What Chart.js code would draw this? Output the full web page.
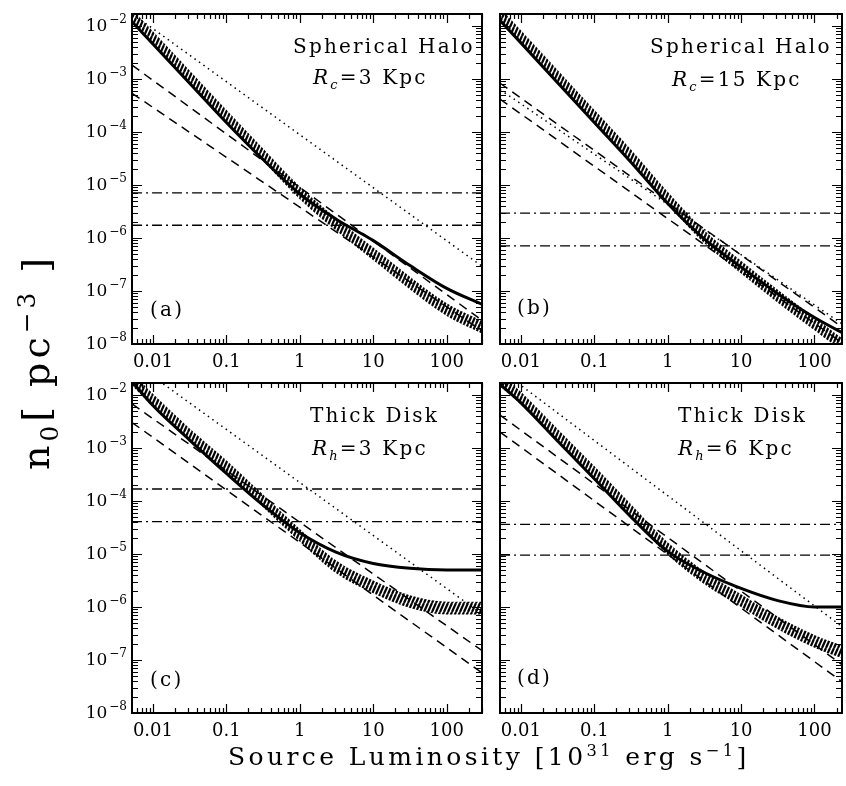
<!DOCTYPE html>
<html>
<head>
<meta charset="utf-8">
<script src="https://cdn.jsdelivr.net/npm/chart.js@4.4.1/dist/chart.umd.min.js"></script>
<style>
  body { margin: 0; background: #fff; }
  #fig { position: relative; width: 846px; height: 786px; overflow: hidden; font-family: 'DejaVu Serif', serif; color: #000; }
  canvas { position: absolute; }
  .t { position: absolute; white-space: nowrap; line-height: 1; }
  .lab { font-size: 20px; letter-spacing: 2.2px; }
  sub, sup { font-size: 65%; line-height: 0; }
</style>
</head>
<body>
<div id="fig">
  <canvas id="pa" width="490" height="380" style="left:0;top:0"></canvas>
  <canvas id="pb" width="356" height="380" style="left:490px;top:0"></canvas>
  <canvas id="pc" width="490" height="380" style="left:0;top:369px"></canvas>
  <canvas id="pd" width="356" height="380" style="left:490px;top:369px"></canvas>

  <div class="t lab" style="left:293px;top:36px">Spherical Halo</div>
  <div class="t lab" style="left:313px;top:67px"><i>R<sub>c</sub></i>=3 Kpc</div>
  <div class="t lab" style="left:650px;top:36px">Spherical Halo</div>
  <div class="t lab" style="left:672px;top:69px"><i>R<sub>c</sub></i>=15 Kpc</div>
  <div class="t lab" style="left:310px;top:405px">Thick Disk</div>
  <div class="t lab" style="left:312px;top:438px"><i>R<sub>h</sub></i>=3 Kpc</div>
  <div class="t lab" style="left:678px;top:405px">Thick Disk</div>
  <div class="t lab" style="left:678px;top:438px"><i>R<sub>h</sub></i>=6 Kpc</div>

  <div class="t lab" style="left:150px;top:299px">(a)</div>
  <div class="t lab" style="left:517px;top:297px">(b)</div>
  <div class="t lab" style="left:150px;top:669px">(c)</div>
  <div class="t lab" style="left:517px;top:667px">(d)</div>

  <div class="t" style="left:228px;top:744px;font-size:25px;letter-spacing:3.4px">Source Luminosity [10<sup>31</sup> erg s<sup>−1</sup>]</div>
  <div class="t" style="left:36px;top:362px;font-size:38px;letter-spacing:4px;transform:translate(-50%,-50%) rotate(-90deg)">n<sub>0</sub>[ pc<sup>−3</sup> ]</div>
</div>
<script>
// luminosity grid for the curves [10^31 erg/s]
const lum = [0.0052, 0.01, 0.0316, 0.1, 0.316, 1, 3.16, 10, 31.6, 100, 300];
// end points of the straight power-law lines
const endsL = [0.0052, 300];
const endsR = [0.0052, 237];

// (a) spherical halo, Rc = 3 kpc
const bandHiA = [2.09e-2, 7.94e-3, 1.45e-3, 2.63e-4, 4.9e-5, 9.33e-6, 2.34e-6, 6.61e-7, 1.86e-7, 5.89e-8, 2.75e-8];
const bandLoA = [1.2e-2, 4.57e-3, 8.32e-4, 1.51e-4, 2.82e-5, 5.37e-6, 1.35e-6, 3.8e-7, 1.07e-7, 3.39e-8, 1.58e-8];
const solidA = [1.2e-2, 4.57e-3, 8.32e-4, 1.51e-4, 3.02e-5, 6.76e-6, 2.24e-6, 8.91e-7, 3.02e-7, 1.12e-7, 5.62e-8];
const dashHiA = [1.82e-3, 2.82e-8];
const dashLoA = [5.37e-4, 1.78e-8];
const dotA = [1.71e-2, 2.95e-7];
const dashDotA = [7.1e-6, 1.74e-6];

// (b) spherical halo, Rc = 15 kpc
const bandHiB = [2.19e-2, 8.32e-3, 1.48e-3, 2.63e-4, 4.68e-5, 7.41e-6, 1.38e-6, 3.72e-7, 1.05e-7, 3.16e-8, 1.0e-8];
const bandLoB = [1.26e-2, 4.79e-3, 8.51e-4, 1.51e-4, 2.69e-5, 4.27e-6, 7.94e-7, 2.14e-7, 6.03e-8, 1.82e-8, 5.75e-9];
const solidB = [1.26e-2, 4.79e-3, 8.51e-4, 1.51e-4, 2.69e-5, 4.47e-6, 9.55e-7, 2.82e-7, 8.91e-8, 3.16e-8, 1.38e-8];
const dashHiB = [8.3e-4, 2.09e-8];
const dashLoB = [4.17e-4, 1.05e-8];
const dotB = [6.31e-4, 2.4e-8];
const dashDotB = [2.95e-6, 7.08e-7];

// (c) thick disk, Rh = 3 kpc
const bandHiC = [2.63e-2, 1.05e-2, 2.34e-3, 5.89e-4, 1.32e-4, 2.95e-5, 7.41e-6, 3.16e-6, 1.66e-6, 1.26e-6, 1.26e-6];
const bandLoC = [1.51e-2, 6.03e-3, 1.35e-3, 3.39e-4, 7.59e-5, 1.7e-5, 4.27e-6, 1.82e-6, 9.55e-7, 7.24e-7, 7.24e-7];
const solidC = [1.78e-2, 6.31e-3, 1.41e-3, 3.31e-4, 8.32e-5, 2.51e-5, 1.07e-5, 6.61e-6, 5.37e-6, 5.01e-6, 5.01e-6];
const dashHiC = [6.76e-3, 1.51e-7];
const dashLoC = [3.02e-3, 5.75e-8];
const dotC = [4.3e-2, 7.41e-7];
const dashDotC = [1.68e-4, 4.07e-5];

// (d) thick disk, Rh = 6 kpc
const bandHiD = [2.51e-2, 1.15e-2, 2.29e-3, 4.57e-4, 8.71e-5, 1.66e-5, 4.68e-6, 1.74e-6, 6.61e-7, 2.95e-7, 1.66e-7];
const bandLoD = [1.45e-2, 6.61e-3, 1.32e-3, 2.63e-4, 5.01e-5, 9.55e-6, 2.69e-6, 1.0e-6, 3.8e-7, 1.7e-7, 9.55e-8];
const solidD = [1.58e-2, 7.08e-3, 1.35e-3, 2.63e-4, 5.01e-5, 1.12e-5, 4.47e-6, 2.24e-6, 1.32e-6, 1.0e-6, 1.0e-6];
const dashHiD = [4.17e-3, 8.13e-8];
const dashLoD = [2.0e-3, 3.89e-8];
const dotD = [2.99e-2, 4.27e-7];
const dashDotD = [3.63e-5, 9.55e-6];

// axis ticks
const xTicks = [0.01, 0.1, 1, 10, 100];
const yTicks = [1e-8, 1e-7, 1e-6, 1e-5, 1e-4, 1e-3, 1e-2];

Chart.defaults.font.family = "'DejaVu Serif', serif";
Chart.defaults.color = '#000';

// hatch fill for the shaded band
function hatch() {
  const c = document.createElement('canvas');
  c.width = 4; c.height = 9;
  const g = c.getContext('2d');
  g.strokeStyle = '#000';
  g.lineWidth = 2.2;
  g.beginPath();
  for (let k = -1; k <= 1; k++) { g.moveTo(k * 4, 9); g.lineTo(k * 4 + 4, 0); }
  g.stroke();
  return g.createPattern(c, 'repeat');
}

// inward tick marks on all four sides, the frame, and 10^n labels
const frame = {
  id: 'frame',
  afterDatasetsDraw(chart) {
    const { ctx, chartArea: a, scales: { x, y } } = chart;
    ctx.save();
    ctx.strokeStyle = '#000';
    ctx.lineWidth = 1.2;
    ctx.beginPath();
    for (let d = -3; d <= 3; d++) {
      for (let m = 1; m < 10; m++) {
        const v = m * Math.pow(10, d);
        if (v < x.min || v > x.max) continue;
        const px = Math.round(x.getPixelForValue(v)) + 0.5;
        const len = m === 1 ? 9 : 5;
        ctx.moveTo(px, a.bottom); ctx.lineTo(px, a.bottom - len);
        ctx.moveTo(px, a.top); ctx.lineTo(px, a.top + len);
      }
    }
    for (let d = -9; d <= -1; d++) {
      for (let m = 1; m < 10; m++) {
        const v = m * Math.pow(10, d);
        if (v < y.min || v > y.max) continue;
        const py = Math.round(y.getPixelForValue(v)) + 0.5;
        const len = m === 1 ? 10 : 6;
        ctx.moveTo(a.left, py); ctx.lineTo(a.left + len, py);
        ctx.moveTo(a.right, py); ctx.lineTo(a.right - len, py);
      }
    }
    ctx.stroke();
    ctx.lineWidth = 2;
    ctx.strokeRect(a.left, a.top, a.width, a.height);

    if (chart.options.scales.y.display) {
      ctx.fillStyle = '#000';
      ctx.textBaseline = 'middle';
      y.ticks.forEach(t => {
        const py = y.getPixelForValue(t.value);
        const exp = String(Math.round(Math.log10(t.value))).replace('-', '−');
        ctx.font = "12px 'DejaVu Serif'";
        ctx.textAlign = 'right';
        ctx.fillText(exp, a.left - 5, py - 6);
        const w = ctx.measureText(exp).width;
        ctx.font = "17px 'DejaVu Serif'";
        ctx.fillText('10', a.left - 7 - w, py + 1);
      });
    }
    ctx.restore();
  }
};

const pts = (xs, ys) => xs.map((x, i) => ({ x: x, y: ys[i] }));
const flat = (xs, v) => xs.map(x => ({ x: x, y: v }));

function panel(id, xMax, showY, ends, bandHi, bandLo, solid, dashHi, dashLo, dot, dashDot) {
  const line = { pointRadius: 0, borderColor: '#000', fill: false, clip: 0 };
  new Chart(document.getElementById(id), {
    type: 'line',
    data: {
      datasets: [
        { ...line, data: pts(lum, bandLo), borderWidth: 0, cubicInterpolationMode: 'monotone' },
        { ...line, data: pts(lum, bandHi), borderWidth: 0, fill: '-1', backgroundColor: hatch(), cubicInterpolationMode: 'monotone' },
        { ...line, data: pts(lum, solid), borderWidth: 3, cubicInterpolationMode: 'monotone' },
        { ...line, data: pts(ends, dashHi), borderWidth: 1.5, borderDash: [9, 6] },
        { ...line, data: pts(ends, dashLo), borderWidth: 1.5, borderDash: [9, 6] },
        { ...line, data: pts(ends, dot), borderWidth: 1.5, borderDash: [1.5, 4] },
        { ...line, data: flat(ends, dashDot[0]), borderWidth: 1.3, borderDash: [10, 4, 2, 4] },
        { ...line, data: flat(ends, dashDot[1]), borderWidth: 1.3, borderDash: [10, 4, 2, 4] },
      ],
    },
    options: {
      responsive: false,
      animation: false,
      devicePixelRatio: 1,
      layout: { padding: { top: 14, right: showY ? 8 : 4, left: showY ? 0 : 10, bottom: 0 } },
      plugins: { legend: { display: false }, tooltip: { enabled: false } },
      scales: {
        x: {
          type: 'logarithmic',
          min: 0.00519,
          max: xMax,
          grid: { display: false, drawTicks: false },
          border: { display: false },
          ticks: { font: { size: 18 }, padding: 8, maxRotation: 0, callback: v => String(v) },
          afterBuildTicks: s => { s.ticks = xTicks.map(v => ({ value: v })); },
          afterFit: s => { s.height = 36; },
        },
        y: {
          type: 'logarithmic',
          display: showY,
          min: 1e-8,
          max: 0.0168,
          grid: { display: false, drawTicks: false },
          border: { display: false },
          ticks: { display: false },
          afterBuildTicks: s => { s.ticks = yTicks.map(v => ({ value: v })); },
          afterFit: s => { s.width = showY ? 132 : 0; },
        },
      },
    },
    plugins: [frame],
  });
}

panel('pa', 302, true, endsL, bandHiA, bandLoA, solidA, dashHiA, dashLoA, dotA, dashDotA);
panel('pb', 237, false, endsR, bandHiB, bandLoB, solidB, dashHiB, dashLoB, dotB, dashDotB);
panel('pc', 302, true, endsL, bandHiC, bandLoC, solidC, dashHiC, dashLoC, dotC, dashDotC);
panel('pd', 237, false, endsR, bandHiD, bandLoD, solidD, dashHiD, dashLoD, dotD, dashDotD);
</script>
</body>
</html>
